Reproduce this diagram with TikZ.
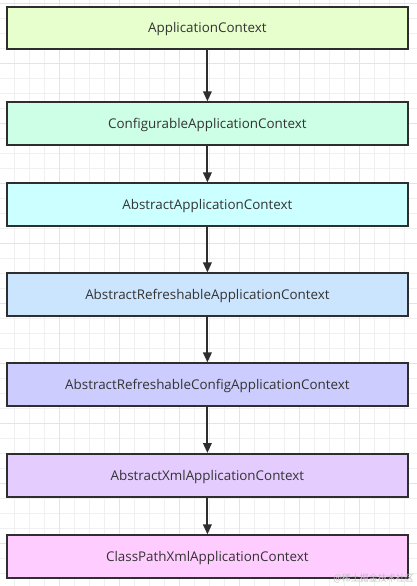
\documentclass[tikz,border=0pt]{standalone}
\usepackage{fontspec}
\setmainfont{Open Sans}
\newfontfamily\cjkfont{Noto Sans CJK SC}
\usetikzlibrary{arrows.meta}
\definecolor{gridminor}{HTML}{F0F0F0}
\definecolor{gridmajor}{HTML}{E4E4E4}
\definecolor{edge}{HTML}{2E2E2E}
\definecolor{txt}{HTML}{333333}
\definecolor{cA}{HTML}{E6FFCC}
\definecolor{cB}{HTML}{CCFFE6}
\definecolor{cC}{HTML}{CCFFFF}
\definecolor{cD}{HTML}{CCE5FF}
\definecolor{cE}{HTML}{CCCCFF}
\definecolor{cF}{HTML}{E5CCFF}
\definecolor{cG}{HTML}{FFCCFF}
\tikzset{
  classbox/.style={draw=edge, line width=2pt, minimum width=401.8pt, minimum height=42.6pt,
    inner sep=0pt, text=txt, text height=9.7pt, text depth=0pt,
    font=\fontsize{13.4}{15}\selectfont},
  inherit/.style={draw=edge, line width=2pt, -{Triangle[length=10pt,width=8.5pt]}},
}
\begin{document}
\begin{tikzpicture}[x=1pt,y=-1pt]
\useasboundingbox (0,0) rectangle (417,586);
\fill[white] (0,0) rectangle (417,586);
\foreach \i in {0,...,27} {
  \draw[gridminor, line width=0.8pt] (-0.7+15*\i,0) -- (-0.7+15*\i,586);
}
\foreach \i in {0,...,39} {
  \draw[gridminor, line width=0.8pt] (0,3.3+15*\i) -- (417,3.3+15*\i);
}
\foreach \i in {1,...,6} {
  \draw[gridmajor, line width=0.8pt] (-0.7+60*\i,0) -- (-0.7+60*\i,586);
}
\foreach \i in {0,...,9} {
  \draw[gridmajor, line width=0.8pt] (0,3.3+60*\i) -- (417,3.3+60*\i);
}
\node[classbox, fill=cA] (n1) at (207.4,28.0) {ApplicationContext};
\node[classbox, fill=cB] (n2) at (207.4,123.6) {ConfigurableApplicationContext};
\node[classbox, fill=cC] (n3) at (207.4,204.7) {AbstractApplicationContext};
\node[classbox, fill=cD] (n4) at (207.4,294.7) {AbstractRefreshableApplicationContext};
\node[classbox, fill=cE] (n5) at (207.4,384.7) {AbstractRefreshableConfigApplicationContext};
\node[classbox, fill=cF] (n6) at (207.4,475.3) {AbstractXmlApplicationContext};
\node[classbox, fill=cG] (n7) at (207.4,556.7) {ClassPathXmlApplicationContext};
\draw[inherit] (n1.south) -- (n2.north);
\draw[inherit] (n2.south) -- (n3.north);
\draw[inherit] (n3.south) -- (n4.north);
\draw[inherit] (n4.south) -- (n5.north);
\draw[inherit] (n5.south) -- (n6.north);
\draw[inherit] (n6.south) -- (n7.north);
\node[text=black!25, font=\cjkfont\fontsize{9}{10}\selectfont, anchor=east, inner sep=0pt] (wm) at (414,578.5) {@稀土掘金技术社区};
\end{tikzpicture}
\end{document}
